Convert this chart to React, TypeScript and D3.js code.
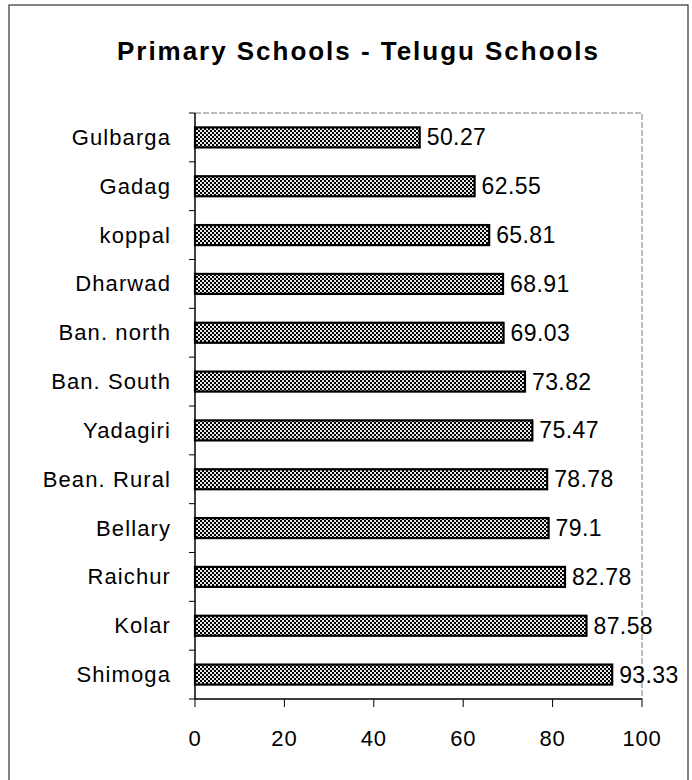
// Horizontal bar chart: Telugu primary schools by district, scanned-report look.
import { useMemo } from "react";
import * as d3 from "d3";

const districts = [
  "Gulbarga",
  "Gadag",
  "koppal",
  "Dharwad",
  "Ban. north",
  "Ban. South",
  "Yadagiri",
  "Bean. Rural",
  "Bellary",
  "Raichur",
  "Kolar",
  "Shimoga",
];
const values = [50.27, 62.55, 65.81, 68.91, 69.03, 73.82, 75.47, 78.78, 79.1, 82.78, 87.58, 93.33];
const xTicks = [0, 20, 40, 60, 80, 100];

const W = 692;
const H = 780;
const FONT = "'Liberation Sans', Arial, sans-serif";

export default function App() {
  const plot = { left: 195, right: 642, top: 113, bottom: 699 };

  const x = useMemo(
    () => d3.scaleLinear().domain([0, 100]).range([plot.left, plot.right]),
    []
  );
  const y = useMemo(
    () =>
      d3
        .scaleBand<string>()
        .domain(districts)
        .range([plot.top, plot.bottom])
        .paddingInner(0.59)
        .paddingOuter(0.295),
    []
  );
  const step = y.step();
  // band boundaries for the little left-pointing ticks
  const bounds = d3.range(districts.length + 1).map((i) => plot.top + i * step);

  return (
    <div style={{ position: "absolute", left: 0, top: 0 }}>
      <svg width={W} height={H} style={{ display: "block", background: "#fff" }}>
        <defs>
          <pattern id="hatch" width={4} height={4} patternUnits="userSpaceOnUse">
            <rect width={4} height={4} fill="#e8e8e8" />
            <rect x={0} y={0} width={2} height={2} fill="#000" />
            <rect x={2} y={2} width={2} height={2} fill="#000" />
          </pattern>
        </defs>

        {/* outer frame */}
        <rect x={9} y={5} width={679} height={790} fill="none" stroke="#333" strokeWidth={1.2} />

        <text
          x={117}
          y={60}
          textLength={481}
          lengthAdjust="spacing"
          fontFamily={FONT}
          fontWeight="bold"
          fontSize={26}
          fill="#000"
        >
          Primary Schools - Telugu Schools
        </text>

        {/* faint plot-area frame (top and right) */}
        <path
          d={`M${plot.left},${plot.top}H${plot.right}V${plot.bottom}`}
          fill="none"
          stroke="#777"
          strokeWidth={1}
          strokeDasharray="6 2"
        />

        {districts.map((d, i) => {
          const by = y(d)!;
          const cy = by + y.bandwidth() / 2;
          return (
            <g key={d}>
              <rect
                x={x(0)}
                y={by}
                width={x(values[i]) - x(0)}
                height={y.bandwidth()}
                fill="url(#hatch)"
                stroke="#000"
                strokeWidth={2.2}
              />
              <text
                x={x(values[i]) + 7}
                y={cy}
                dominantBaseline="central"
                fontFamily={FONT}
                fontSize={23}
                letterSpacing={0.4}
                fill="#000"
              >
                {values[i]}
              </text>
              <text
                x={171}
                y={cy}
                dominantBaseline="central"
                textAnchor="end"
                fontFamily={FONT}
                fontSize={22}
                letterSpacing={1.1}
                fill="#000"
              >
                {d}
              </text>
            </g>
          );
        })}

        {/* y axis */}
        <line x1={plot.left} x2={plot.left} y1={plot.top} y2={plot.bottom} stroke="#000" strokeWidth={1.5} />
        {bounds.map((b, i) => (
          <line key={i} x1={plot.left - 6} x2={plot.left} y1={b} y2={b} stroke="#000" strokeWidth={1} />
        ))}

        {/* x axis */}
        <line x1={plot.left} x2={plot.right} y1={plot.bottom} y2={plot.bottom} stroke="#000" strokeWidth={1.5} />
        {xTicks.map((t) => (
          <g key={t}>
            <line x1={x(t)} x2={x(t)} y1={plot.bottom} y2={plot.bottom + 8} stroke="#000" strokeWidth={1} />
            <text
              x={x(t)}
              y={746}
              textAnchor="middle"
              fontFamily={FONT}
              fontSize={22}
              letterSpacing={0.8}
              fill="#000"
            >
              {t}
            </text>
          </g>
        ))}
      </svg>
    </div>
  );
}
